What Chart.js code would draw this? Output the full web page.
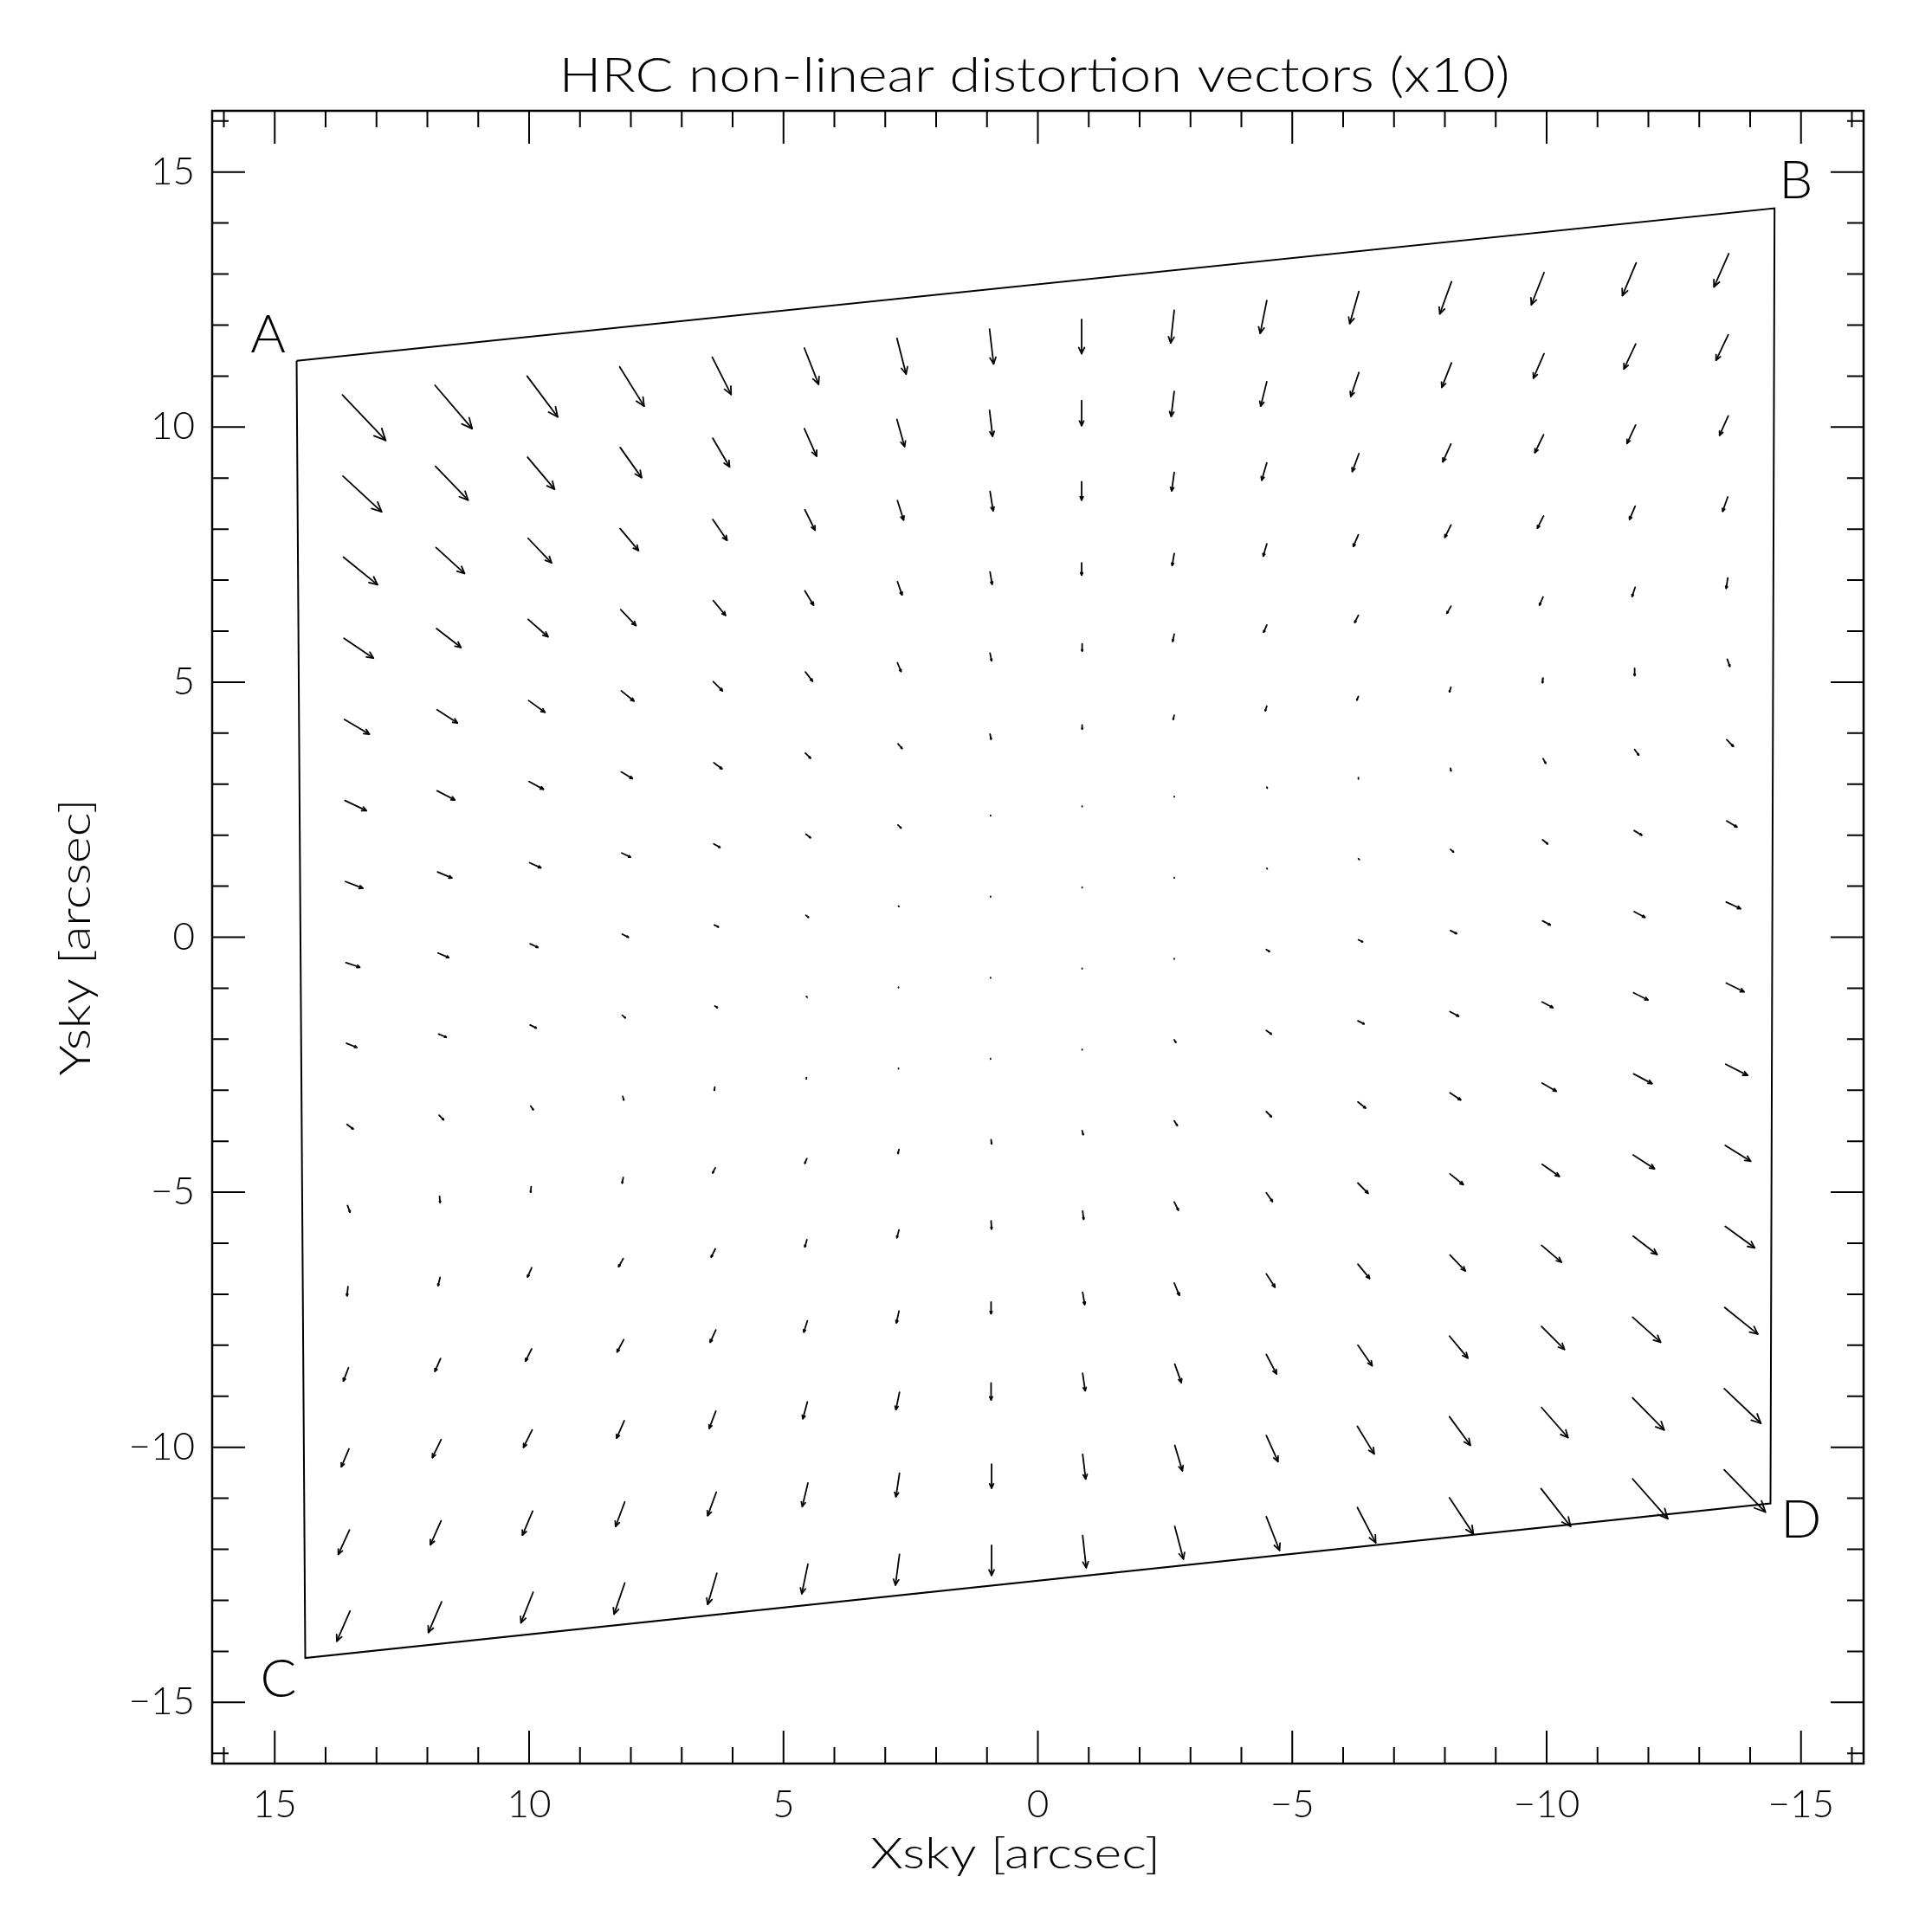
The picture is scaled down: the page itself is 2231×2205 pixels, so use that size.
<!DOCTYPE html>
<html>
<head>
<meta charset="utf-8">
<title>HRC non-linear distortion vectors</title>
<script src="https://cdn.jsdelivr.net/npm/chart.js@4.4.1/dist/chart.umd.min.js"></script>
<style>
    html, body { margin: 0; padding: 0; background: #ffffff; }
    #wrap { width: 2231px; height: 2205px; }
</style>
</head>
<body>
<div id="wrap"><canvas id="distortionChart" width="2231" height="2205"></canvas></div>
<script>
"use strict";

// Grid points (Xsky, Ysky in arcsec), 16 x 16, rows from top to bottom
const tailX = [
    13.67, 11.85, 10.04, 8.22, 6.40, 4.59, 2.77, 0.95, -0.86, -2.68, -4.50, -6.31, -8.13, -9.95, -11.76, -13.58,
    13.66, 11.84, 10.03, 8.21, 6.39, 4.59, 2.77, 0.95, -0.86, -2.68, -4.50, -6.31, -8.13, -9.95, -11.75, -13.57,
    13.65, 11.83, 10.02, 8.21, 6.39, 4.58, 2.76, 0.94, -0.86, -2.68, -4.50, -6.31, -8.12, -9.94, -11.75, -13.57,
    13.64, 11.82, 10.02, 8.20, 6.38, 4.58, 2.76, 0.94, -0.86, -2.68, -4.50, -6.30, -8.12, -9.94, -11.74, -13.56,
    13.63, 11.81, 10.01, 8.19, 6.38, 4.57, 2.76, 0.94, -0.87, -2.68, -4.50, -6.30, -8.12, -9.93, -11.74, -13.56,
    13.62, 11.81, 10.00, 8.19, 6.37, 4.57, 2.75, 0.94, -0.87, -2.68, -4.50, -6.30, -8.12, -9.93, -11.73, -13.55,
    13.61, 11.80, 9.99, 8.18, 6.37, 4.56, 2.75, 0.93, -0.87, -2.68, -4.50, -6.30, -8.11, -9.93, -11.73, -13.54,
    13.60, 11.79, 9.98, 8.17, 6.36, 4.56, 2.74, 0.93, -0.87, -2.68, -4.50, -6.30, -8.11, -9.92, -11.72, -13.54,
    13.59, 11.78, 9.98, 8.17, 6.35, 4.55, 2.74, 0.93, -0.87, -2.68, -4.49, -6.30, -8.11, -9.92, -11.72, -13.53,
    13.58, 11.77, 9.97, 8.16, 6.35, 4.55, 2.74, 0.93, -0.87, -2.68, -4.49, -6.29, -8.10, -9.91, -11.71, -13.53,
    13.57, 11.76, 9.96, 8.15, 6.34, 4.54, 2.73, 0.92, -0.87, -2.68, -4.49, -6.29, -8.10, -9.91, -11.71, -13.52,
    13.56, 11.75, 9.95, 8.15, 6.34, 4.54, 2.73, 0.92, -0.88, -2.68, -4.49, -6.29, -8.10, -9.91, -11.70, -13.51,
    13.55, 11.74, 9.95, 8.14, 6.33, 4.53, 2.73, 0.92, -0.88, -2.68, -4.49, -6.29, -8.10, -9.90, -11.70, -13.51,
    13.54, 11.73, 9.94, 8.13, 6.33, 4.53, 2.72, 0.92, -0.88, -2.69, -4.49, -6.29, -8.09, -9.90, -11.69, -13.50,
    13.53, 11.73, 9.93, 8.12, 6.32, 4.52, 2.72, 0.91, -0.88, -2.69, -4.49, -6.28, -8.09, -9.90, -11.69, -13.49,
    13.52, 11.72, 9.92, 8.12, 6.31, 4.52, 2.72, 0.91, -0.88, -2.69, -4.49, -6.28, -8.09, -9.89, -11.69, -13.49
];
const tailY = [
    10.63, 10.82, 11.00, 11.18, 11.37, 11.55, 11.74, 11.92, 12.11, 12.29, 12.48, 12.66, 12.85, 13.03, 13.22, 13.40,
    9.04, 9.23, 9.41, 9.60, 9.78, 9.97, 10.15, 10.33, 10.52, 10.70, 10.89, 11.07, 11.26, 11.44, 11.63, 11.81,
    7.45, 7.64, 7.82, 8.01, 8.19, 8.38, 8.56, 8.74, 8.93, 9.11, 9.30, 9.48, 9.67, 9.85, 10.04, 10.22,
    5.86, 6.05, 6.23, 6.42, 6.60, 6.79, 6.97, 7.16, 7.34, 7.52, 7.71, 7.89, 8.08, 8.26, 8.45, 8.63,
    4.27, 4.46, 4.64, 4.83, 5.01, 5.20, 5.38, 5.57, 5.75, 5.94, 6.12, 6.31, 6.49, 6.67, 6.86, 7.04,
    2.68, 2.87, 3.05, 3.24, 3.42, 3.61, 3.79, 3.98, 4.16, 4.35, 4.53, 4.72, 4.90, 5.08, 5.27, 5.45,
    1.09, 1.28, 1.46, 1.65, 1.83, 2.02, 2.20, 2.39, 2.57, 2.76, 2.94, 3.13, 3.31, 3.50, 3.68, 3.87,
    -0.50, -0.31, -0.13, 0.06, 0.24, 0.43, 0.61, 0.80, 0.98, 1.17, 1.35, 1.54, 1.72, 1.91, 2.09, 2.28,
    -2.08, -1.90, -1.72, -1.53, -1.35, -1.16, -0.98, -0.79, -0.61, -0.42, -0.24, -0.05, 0.13, 0.32, 0.50, 0.69,
    -3.67, -3.49, -3.31, -3.12, -2.94, -2.75, -2.57, -2.38, -2.20, -2.01, -1.83, -1.64, -1.46, -1.27, -1.09, -0.90,
    -5.26, -5.08, -4.89, -4.71, -4.52, -4.34, -4.16, -3.97, -3.79, -3.60, -3.42, -3.23, -3.05, -2.86, -2.68, -2.49,
    -6.85, -6.67, -6.48, -6.30, -6.11, -5.93, -5.74, -5.56, -5.37, -5.19, -5.01, -4.82, -4.64, -4.45, -4.27, -4.08,
    -8.44, -8.26, -8.07, -7.89, -7.70, -7.52, -7.33, -7.15, -6.96, -6.78, -6.60, -6.41, -6.23, -6.04, -5.86, -5.67,
    -10.03, -9.85, -9.66, -9.48, -9.29, -9.11, -8.92, -8.74, -8.55, -8.37, -8.18, -8.00, -7.82, -7.63, -7.45, -7.26,
    -11.62, -11.44, -11.25, -11.07, -10.88, -10.70, -10.51, -10.33, -10.14, -9.96, -9.77, -9.59, -9.40, -9.22, -9.03, -8.85,
    -13.21, -13.03, -12.84, -12.66, -12.47, -12.29, -12.10, -11.92, -11.73, -11.55, -11.36, -11.18, -10.99, -10.81, -10.62, -10.44
];

// Distortion vectors, magnified x10 as plotted (arcsec)
const vecX = [
    -0.85, -0.73, -0.60, -0.48, -0.37, -0.28, -0.18, -0.08, 0.00, 0.07, 0.13, 0.18, 0.23, 0.25, 0.27, 0.29,
    -0.76, -0.64, -0.53, -0.42, -0.33, -0.24, -0.15, -0.06, 0.00, 0.06, 0.12, 0.16, 0.19, 0.21, 0.23, 0.24,
    -0.67, -0.56, -0.46, -0.36, -0.28, -0.20, -0.12, -0.06, 0.00, 0.05, 0.10, 0.13, 0.16, 0.17, 0.17, 0.17,
    -0.58, -0.48, -0.39, -0.30, -0.24, -0.17, -0.09, -0.04, 0.00, 0.04, 0.07, 0.10, 0.12, 0.12, 0.11, 0.10,
    -0.49, -0.40, -0.32, -0.25, -0.18, -0.14, -0.07, -0.03, 0.00, 0.03, 0.06, 0.07, 0.08, 0.07, 0.06, 0.03,
    -0.42, -0.35, -0.28, -0.22, -0.16, -0.10, -0.08, -0.02, 0.00, 0.02, 0.03, 0.03, 0.03, 0.01, 0.00, -0.05,
    -0.34, -0.28, -0.22, -0.17, -0.12, -0.09, -0.06, 0.00, 0.00, 0.00, -0.01, 0.00, -0.01, -0.05, -0.08, -0.13,
    -0.27, -0.21, -0.15, -0.12, -0.08, -0.05, -0.01, 0.00, 0.00, 0.00, -0.01, -0.02, -0.06, -0.10, -0.15, -0.20,
    -0.20, -0.15, -0.12, -0.06, -0.05, -0.01, 0.00, 0.00, 0.00, 0.00, -0.06, -0.08, -0.12, -0.15, -0.21, -0.28,
    -0.12, -0.09, -0.05, -0.02, 0.01, 0.00, 0.00, 0.00, 0.00, -0.03, -0.10, -0.12, -0.17, -0.21, -0.28, -0.35,
    -0.05, -0.01, 0.01, 0.02, 0.05, 0.04, 0.02, -0.01, -0.02, -0.06, -0.10, -0.15, -0.21, -0.28, -0.36, -0.43,
    0.02, 0.04, 0.08, 0.09, 0.08, 0.04, 0.04, -0.01, -0.02, -0.08, -0.12, -0.20, -0.26, -0.34, -0.42, -0.50,
    0.10, 0.11, 0.12, 0.13, 0.11, 0.07, 0.05, 0.00, -0.04, -0.10, -0.17, -0.23, -0.30, -0.39, -0.47, -0.58,
    0.15, 0.17, 0.17, 0.15, 0.13, 0.09, 0.07, 0.00, -0.05, -0.13, -0.20, -0.28, -0.36, -0.45, -0.55, -0.65,
    0.22, 0.21, 0.20, 0.18, 0.17, 0.11, 0.07, 0.00, -0.06, -0.15, -0.23, -0.33, -0.41, -0.52, -0.62, -0.72,
    0.26, 0.26, 0.24, 0.21, 0.18, 0.12, 0.08, 0.00, -0.07, -0.17, -0.26, -0.36, -0.47, -0.58, -0.69, -0.81
];
const vecY = [
    -0.89, -0.85, -0.80, -0.77, -0.73, -0.71, -0.70, -0.68, -0.67, -0.64, -0.64, -0.63, -0.63, -0.63, -0.64, -0.65,
    -0.70, -0.66, -0.63, -0.59, -0.56, -0.54, -0.53, -0.51, -0.49, -0.49, -0.48, -0.47, -0.48, -0.48, -0.49, -0.50,
    -0.54, -0.51, -0.48, -0.43, -0.41, -0.40, -0.38, -0.38, -0.36, -0.36, -0.34, -0.35, -0.35, -0.35, -0.36, -0.38,
    -0.39, -0.37, -0.34, -0.31, -0.29, -0.28, -0.26, -0.24, -0.24, -0.23, -0.24, -0.23, -0.24, -0.24, -0.26, -0.28,
    -0.29, -0.26, -0.23, -0.20, -0.18, -0.18, -0.17, -0.15, -0.14, -0.14, -0.14, -0.14, -0.14, -0.16, -0.18, -0.20,
    -0.20, -0.18, -0.15, -0.13, -0.12, -0.10, -0.09, -0.10, -0.08, -0.08, -0.09, -0.07, -0.09, -0.09, -0.14, -0.14,
    -0.13, -0.12, -0.10, -0.08, -0.07, -0.07, -0.06, -0.01, -0.01, -0.01, -0.02, -0.03, -0.05, -0.09, -0.11, -0.13,
    -0.09, -0.09, -0.07, -0.06, -0.04, -0.04, -0.01, -0.01, -0.01, -0.01, -0.01, -0.02, -0.05, -0.08, -0.09, -0.12,
    -0.08, -0.06, -0.06, -0.05, -0.03, -0.01, -0.01, -0.01, -0.01, -0.01, -0.04, -0.04, -0.06, -0.08, -0.11, -0.13,
    -0.09, -0.09, -0.07, -0.07, -0.06, -0.03, -0.01, -0.01, -0.01, -0.05, -0.07, -0.06, -0.09, -0.11, -0.14, -0.17,
    -0.13, -0.12, -0.11, -0.11, -0.10, -0.09, -0.08, -0.08, -0.08, -0.09, -0.10, -0.12, -0.14, -0.16, -0.19, -0.22,
    -0.18, -0.16, -0.18, -0.16, -0.16, -0.14, -0.15, -0.16, -0.16, -0.16, -0.17, -0.20, -0.21, -0.24, -0.27, -0.31,
    -0.26, -0.25, -0.24, -0.24, -0.24, -0.22, -0.23, -0.23, -0.24, -0.24, -0.26, -0.28, -0.31, -0.33, -0.36, -0.42,
    -0.35, -0.35, -0.34, -0.34, -0.34, -0.33, -0.34, -0.33, -0.34, -0.36, -0.38, -0.40, -0.43, -0.45, -0.49, -0.52,
    -0.48, -0.47, -0.47, -0.48, -0.46, -0.46, -0.46, -0.47, -0.48, -0.50, -0.51, -0.54, -0.56, -0.59, -0.63, -0.68,
    -0.59, -0.60, -0.60, -0.61, -0.61, -0.58, -0.60, -0.59, -0.63, -0.64, -0.66, -0.69, -0.71, -0.74, -0.78, -0.83
];

// Detector outline A -> B -> D -> C -> A
const outlineX = [14.57, -14.48, -14.40, 14.40, 14.57];
const outlineY = [11.30, 14.29, -11.10, -14.13, 11.30];

// Corner letters
const cornerNames = ['A', 'B', 'C', 'D'];
const cornerLabelX = [15.13, -14.90, 14.93, -15.00];
const cornerLabelY = [11.80, 14.82, -14.55, -11.43];

// Axes
const majorTicks = [-15, -10, -5, 0, 5, 10, 15];
const majorLabels = ['\u221215', '\u221210', '\u22125', '0', '5', '10', '15'];
const minorTicks = [-16, -14, -13, -12, -11, -9, -8, -7, -6, -4, -3, -2, -1,
                    1, 2, 3, 4, 6, 7, 8, 9, 11, 12, 13, 14, 16];

const titleText = 'HRC non-linear distortion vectors (x10)';
const xTitleText = 'Xsky [arcsec]';
const yTitleText = 'Ysky [arcsec]';

// Build line data: one segment per vector, separated by gaps
const shaftPoints = [];
for (let k = 0; k < tailX.length; k++) {
    shaftPoints.push({ x: tailX[k], y: tailY[k] });
    shaftPoints.push({ x: tailX[k] + vecX[k], y: tailY[k] + vecY[k] });
    shaftPoints.push({ x: tailX[k], y: null });
}
const outlinePoints = outlineX.map((v, i) => ({ x: v, y: outlineY[i] }));

const FONT = 'Lato, "DejaVu Sans", sans-serif';

// Draw text, optionally stretched horizontally to a given width
function drawText(ctx, str, x, y, size, align, width) {
    ctx.save();
    ctx.font = '300 ' + size + 'px ' + FONT;
    ctx.textBaseline = 'middle';
    ctx.textAlign = align || 'center';
    ctx.translate(x, y);
    if (width) {
        const w = ctx.measureText(str).width;
        ctx.scale(width / w, 1);
    }
    ctx.fillText(str, 0, 0);
    ctx.restore();
}

const plotDecor = {
    id: 'plotDecor',
    afterDatasetsDraw(chart) {
        const { ctx, scales } = chart;
        const xs = scales.x, ys = scales.y;
        // arrowheads
        ctx.save();
        ctx.strokeStyle = '#000';
        ctx.lineWidth = 1.8;
        ctx.lineCap = 'round';
        ctx.lineJoin = 'round';
        for (let k = 0; k < tailX.length; k++) {
            const x0 = xs.getPixelForValue(tailX[k]);
            const y0 = ys.getPixelForValue(tailY[k]);
            const x1 = xs.getPixelForValue(tailX[k] + vecX[k]);
            const y1 = ys.getPixelForValue(tailY[k] + vecY[k]);
            const len = Math.hypot(x1 - x0, y1 - y0);
            if (len < 3) continue;
            const ang = Math.atan2(y1 - y0, x1 - x0);
            const h = 0.2 * len;
            ctx.beginPath();
            ctx.moveTo(x1 - h * Math.cos(ang - 0.44), y1 - h * Math.sin(ang - 0.44));
            ctx.lineTo(x1, y1);
            ctx.lineTo(x1 - h * Math.cos(ang + 0.44), y1 - h * Math.sin(ang + 0.44));
            ctx.stroke();
        }
        ctx.restore();
    },
    afterDraw(chart) {
        const { ctx, chartArea: area, scales } = chart;
        const xs = scales.x, ys = scales.y;
        ctx.save();
        ctx.strokeStyle = '#000';
        ctx.fillStyle = '#000';

        // frame
        ctx.lineWidth = 2.5;
        ctx.strokeRect(area.left, area.top, area.right - area.left, area.bottom - area.top);

        // inward ticks on all four sides
        ctx.lineWidth = 2;
        const tick = (len, vals) => {
            vals.forEach(v => {
                const px = xs.getPixelForValue(v);
                const py = ys.getPixelForValue(v);
                ctx.beginPath();
                ctx.moveTo(px, area.bottom); ctx.lineTo(px, area.bottom - len);
                ctx.moveTo(px, area.top); ctx.lineTo(px, area.top + len);
                ctx.moveTo(area.left, py); ctx.lineTo(area.left + len, py);
                ctx.moveTo(area.right, py); ctx.lineTo(area.right - len, py);
                ctx.stroke();
            });
        };
        tick(38, majorTicks);
        tick(19, minorTicks);

        // tick labels
        majorTicks.forEach((v, i) => {
            drawText(ctx, majorLabels[i], xs.getPixelForValue(v), area.bottom + 48, 44, 'center');
            drawText(ctx, majorLabels[i], area.left - 20, ys.getPixelForValue(v), 44, 'right');
        });

        // corner letters
        cornerNames.forEach((name, i) => {
            drawText(ctx, name, xs.getPixelForValue(cornerLabelX[i]), ys.getPixelForValue(cornerLabelY[i]), 62, 'center');
        });

        // titles
        drawText(ctx, titleText, (area.left + area.right) / 2 - 4, 88, 56, 'center', 1098);
        drawText(ctx, xTitleText, (area.left + area.right) / 2 - 26, area.bottom + 105, 50, 'center', 335);
        ctx.translate(88, (area.top + area.bottom) / 2);
        ctx.rotate(-Math.PI / 2);
        drawText(ctx, yTitleText, 0, 0, 50, 'center', 320);
        ctx.restore();
    }
};

const ctx = document.getElementById('distortionChart').getContext('2d');
const distortionChart = new Chart(ctx, {
    type: 'scatter',
    data: {
        datasets: [
            {
                label: 'Detector outline',
                data: outlinePoints,
                showLine: true,
                borderColor: '#000',
                borderWidth: 2,
                pointRadius: 0,
                tension: 0,
                fill: false
            },
            {
                label: 'Distortion x10',
                data: shaftPoints,
                showLine: true,
                spanGaps: false,
                borderColor: '#000',
                borderWidth: 1.8,
                borderCapStyle: 'round',
                pointRadius: 0,
                tension: 0,
                fill: false
            }
        ]
    },
    options: {
        responsive: false,
        animation: false,
        devicePixelRatio: 1,
        layout: { padding: { left: 245, right: 79, top: 128, bottom: 168 } },
        plugins: {
            legend: { display: false },
            tooltip: { enabled: false }
        },
        scales: {
            x: { type: 'linear', min: -16.23, max: 16.23, reverse: true, display: false },
            y: { type: 'linear', min: -16.2, max: 16.2, display: false }
        }
    },
    plugins: [plotDecor]
});
</script>
</body>
</html>
